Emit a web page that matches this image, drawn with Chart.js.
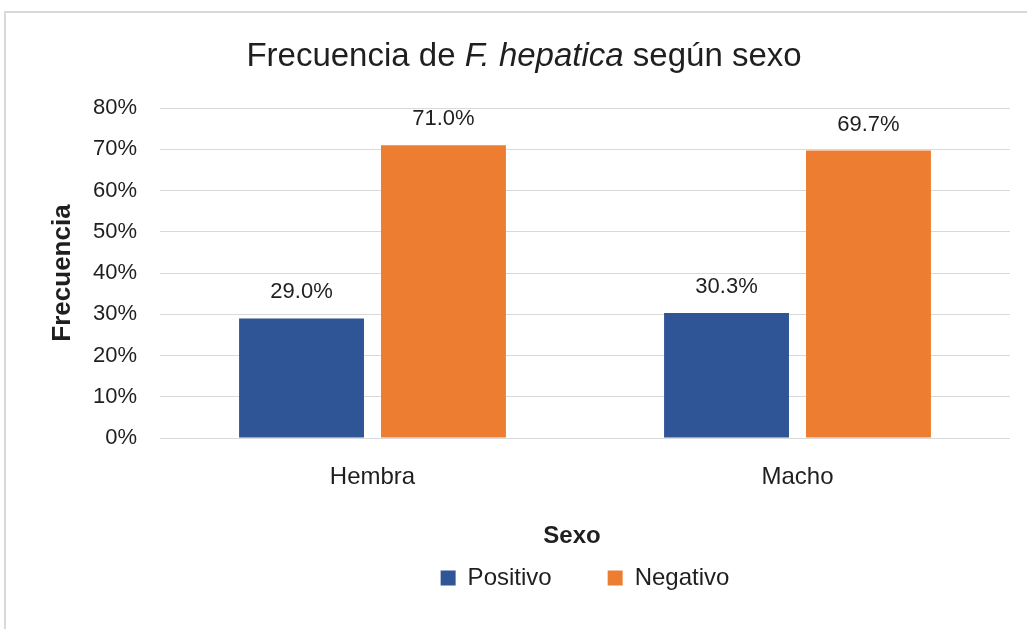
<!DOCTYPE html>
<html>
<head>
<meta charset="utf-8">
<script src="https://cdn.jsdelivr.net/npm/chart.js@4"></script>
<style>
html, body { margin: 0; padding: 0; background: #fff; overflow: hidden; width: 1027px; height: 629px; }
#marco { position: absolute; left: 4px; top: 11px; width: 1100px; height: 700px; border-left: 2px solid #d9d9d9; border-top: 2px solid #d9d9d9; }
#caja { position: absolute; left: 6px; top: 13px; width: 1040px; height: 650px; }
</style>
</head>
<body>
<div id="marco"></div>
<div id="caja"><canvas id="grafico"></canvas></div>
<script>
// datos del grafico
const categorias = ['Hembra', 'Macho'];
const positivo = [29.0, 30.3];
const negativo = [71.0, 69.7];
const marcasY = [0, 10, 20, 30, 40, 50, 60, 70, 80];

const fuente = "'Liberation Sans', Arial, sans-serif";
const colorTexto = '#1f1f1f';

// titulo con parte en cursiva + titulo del eje X
const titulos = {
    id: 'titulos',
    afterDraw(chart) {
        const ctx = chart.ctx;
        const partes = [
            { t: 'Frecuencia de ', f: '33px ' + fuente },
            { t: 'F. hepatica', f: 'italic 33px ' + fuente },
            { t: ' según sexo', f: '33px ' + fuente }
        ];
        ctx.save();
        ctx.fillStyle = colorTexto;
        ctx.textBaseline = 'middle';
        ctx.textAlign = 'left';
        let total = 0;
        partes.forEach(p => { ctx.font = p.f; p.w = ctx.measureText(p.t).width; total += p.w; });
        let x = 518 - total / 2;
        partes.forEach(p => { ctx.font = p.f; ctx.fillText(p.t, x, 44); x += p.w; });

        ctx.font = 'bold 24px ' + fuente;
        ctx.textAlign = 'center';
        ctx.fillText('Sexo', 566, 523);
        ctx.restore();
    }
};

// etiquetas de valor encima de cada barra
const etiquetas = {
    id: 'etiquetas',
    afterDatasetsDraw(chart) {
        const ctx = chart.ctx;
        ctx.save();
        ctx.font = '22px ' + fuente;
        ctx.fillStyle = colorTexto;
        ctx.textAlign = 'center';
        ctx.textBaseline = 'middle';
        chart.data.datasets.forEach((ds, i) => {
            chart.getDatasetMeta(i).data.forEach((barra, j) => {
                ctx.fillText(ds.data[j].toFixed(1) + '%', barra.x, barra.y - 26);
            });
        });
        ctx.restore();
    }
};

new Chart(document.getElementById('grafico'), {
    type: 'bar',
    data: {
        labels: categorias,
        datasets: [
            { label: 'Positivo', data: positivo, backgroundColor: '#2f5597' },
            { label: 'Negativo', data: negativo, backgroundColor: '#ed7d31' }
        ]
    },
    options: {
        responsive: true,
        maintainAspectRatio: false,
        animation: false,
        categoryPercentage: 0.668,
        barPercentage: 0.88,
        layout: { padding: { top: 95, right: 36, left: 0, bottom: 63 } },
        plugins: {
            title: { display: false },
            tooltip: { enabled: false },
            legend: {
                position: 'bottom',
                fullSize: false,
                labels: {
                    font: { family: fuente, size: 24 },
                    color: colorTexto,
                    boxWidth: 15,
                    boxHeight: 15,
                    padding: 56
                }
            }
        },
        scales: {
            x: {
                grid: { display: false },
                border: { display: false },
                ticks: { font: { family: fuente, size: 24 }, color: colorTexto, padding: 17 },
                afterFit(s) { s.height = 72; }
            },
            y: {
                min: 0,
                max: 80,
                afterBuildTicks(s) { s.ticks = marcasY.map(v => ({ value: v })); },
                grid: { color: '#d9d9d9', lineWidth: 1, drawTicks: false },
                border: { display: false },
                ticks: {
                    font: { family: fuente, size: 22 },
                    color: colorTexto,
                    padding: 23,
                    callback: v => v + '%'
                },
                title: {
                    display: true,
                    text: 'Frecuencia',
                    font: { family: fuente, size: 26, weight: 'bold' },
                    color: colorTexto,
                    padding: { top: 41, bottom: 0 }
                },
                afterFit(s) { s.width = 154; }
            }
        }
    },
    plugins: [titulos, etiquetas]
});
</script>
</body>
</html>
